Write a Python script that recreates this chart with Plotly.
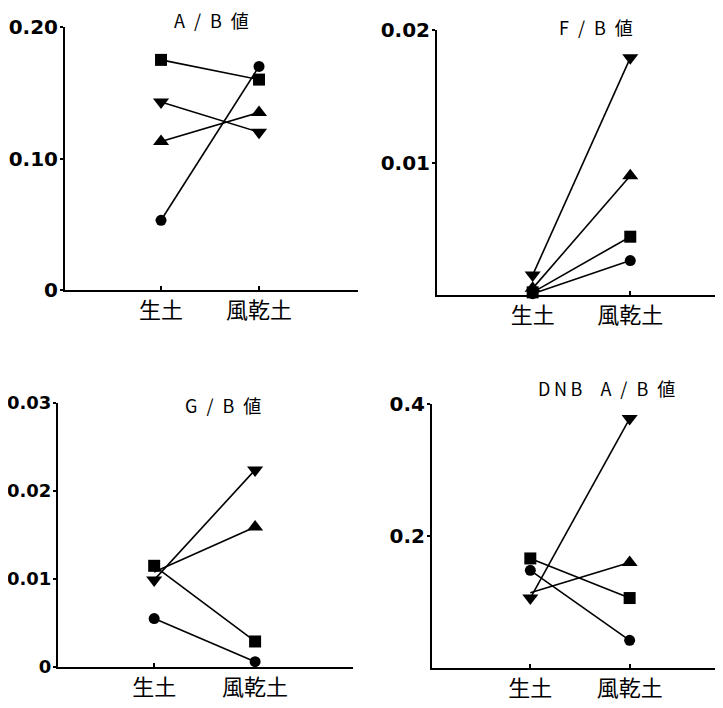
import plotly.graph_objects as go

# The page body adds an 8px margin around the figure; compensate for it.
OFF = 8
W, H = 723 - OFF, 708 - OFF

cats = ['生土', '風乾土']
cat_pos = [0, 1]

# A/B values
ab_circle = [0.053, 0.170]
ab_square = [0.175, 0.160]
ab_tri_up = [0.113, 0.135]
ab_tri_down = [0.143, 0.120]

# F/B values
fb_circle = [0.0001, 0.0026]
fb_square = [0.0002, 0.0044]
fb_tri_up = [0.0005, 0.0090]
fb_tri_down = [0.0015, 0.0179]

# G/B values
gb_circle = [0.0055, 0.0006]
gb_square = [0.0115, 0.0029]
gb_tri_up = [0.0108, 0.0159]
gb_tri_down = [0.0099, 0.0224]

# DNB A/B values
dnb_circle = [0.148, 0.042]
dnb_square = [0.166, 0.106]
dnb_tri_up = [0.114, 0.160]
dnb_tri_down = [0.106, 0.378]

# markers hidden (overlapped by other markers) in the original figure
hidden = {(2, 2, 0), (3, 2, 0)}  # (panel, series, point)

SP = '\u2002'
titles = [f'A{SP}/{SP}B{SP}値', f'F{SP}/{SP}B{SP}値', f'G{SP}/{SP}B{SP}値',
          f'D\u2009N\u2009B\u2003A{SP}/{SP}B{SP}値']
y_ticks = [[0, 0.10, 0.20], [0.01, 0.02], [0, 0.01, 0.02, 0.03], [0.2, 0.4]]
y_ticktext = [['0', '0.10', '0.20'], ['0.01', '0.02'], ['0', '0.01', '0.02', '0.03'], ['0.2', '0.4']]
y_ranges = [[0, 0.20], [0, 0.02], [0, 0.03], [0, 0.4]]
y_font_sizes = [20, 20, 18, 20]

panels = [
    [ab_circle, ab_square, ab_tri_up, ab_tri_down],
    [fb_circle, fb_square, fb_tri_up, fb_tri_down],
    [gb_circle, gb_square, gb_tri_up, gb_tri_down],
    [dnb_circle, dnb_square, dnb_tri_up, dnb_tri_down],
]

# layout geometry in target pixels: (x_axis_left, x_end, y_top, y_bottom, x_range)
geom = [
    (65, 358, 27, 290, [-0.98, 2.01]),
    (437, 723, 30, 295, [-0.98, 1.95]),
    (58, 353, 403, 667, [-0.953, 1.97]),
    (432, 723, 404, 668, [-0.99, 1.94]),
]
title_pos = [(212, 20), (596, 27), (223, 405), (606, 388)]

symbols = ['circle', 'square', 'triangle-up', 'triangle-down']
sizes = [11, 12, 14, 14]

fig = go.Figure()
for i, series in enumerate(panels):
    xa = 'x' if i == 0 else f'x{i+1}'
    ya = 'y' if i == 0 else f'y{i+1}'
    for s, vals in enumerate(series):
        msize = [0 if (i, s, k) in hidden else sizes[s] for k in range(len(vals))]
        fig.add_trace(go.Scatter(
            x=cat_pos, y=vals, mode='lines+markers',
            xaxis=xa, yaxis=ya,
            line=dict(color='black', width=1.6),
            marker=dict(symbol=symbols[s], size=msize, color='black', opacity=1,
                        line=dict(width=0)),
            cliponaxis=False, showlegend=False,
        ))

def px_x(v):
    return (v - OFF) / W

def px_y(v):
    return 1 - (v - OFF) / H

layout = dict(
    template='none',
    width=W, height=H,
    margin=dict(l=0, r=0, t=0, b=0, autoexpand=False),
    paper_bgcolor='white', plot_bgcolor='white',
    showlegend=False,
)
annotations = []
for i, (xl, xr, yt, yb, xr_range) in enumerate(geom):
    suffix = '' if i == 0 else str(i + 1)
    layout['xaxis' + suffix] = dict(
        domain=[max(0, px_x(xl)), min(1, px_x(xr))], range=xr_range,
        anchor='y' + suffix, automargin=False,
        tickvals=cat_pos, ticktext=cats,
        showline=True, linecolor='black', linewidth=2,
        ticks='inside', ticklen=4, tickwidth=1.5, tickcolor='black',
        ticklabelstandoff=0,
        tickfont=dict(family='Noto Sans CJK JP', size=22, color='black'),
        showgrid=False, zeroline=False, fixedrange=True,
    )
    layout['yaxis' + suffix] = dict(
        domain=[max(0, px_y(yb)), min(1, px_y(yt))], range=y_ranges[i],
        anchor='x' + suffix, automargin=False,
        tickvals=y_ticks[i], ticktext=y_ticktext[i],
        showline=True, linecolor='black', linewidth=2,
        ticks='outside', ticklen=3, tickwidth=1.5, tickcolor='black',
        ticklabelstandoff=-2,
        tickfont=dict(family='DejaVu Sans', size=y_font_sizes[i], color='black', weight='bold'),
        showgrid=False, zeroline=False, fixedrange=True,
    )
    tx, ty = title_pos[i]
    annotations.append(dict(
        x=px_x(tx), y=px_y(ty), xref='paper', yref='paper',
        text=titles[i], showarrow=False, xanchor='center', yanchor='middle',
        font=dict(family='Noto Sans CJK JP', size=18, color='black'),
    ))
layout['annotations'] = annotations
fig.update_layout(**layout)

fig.write_html('out.html')
